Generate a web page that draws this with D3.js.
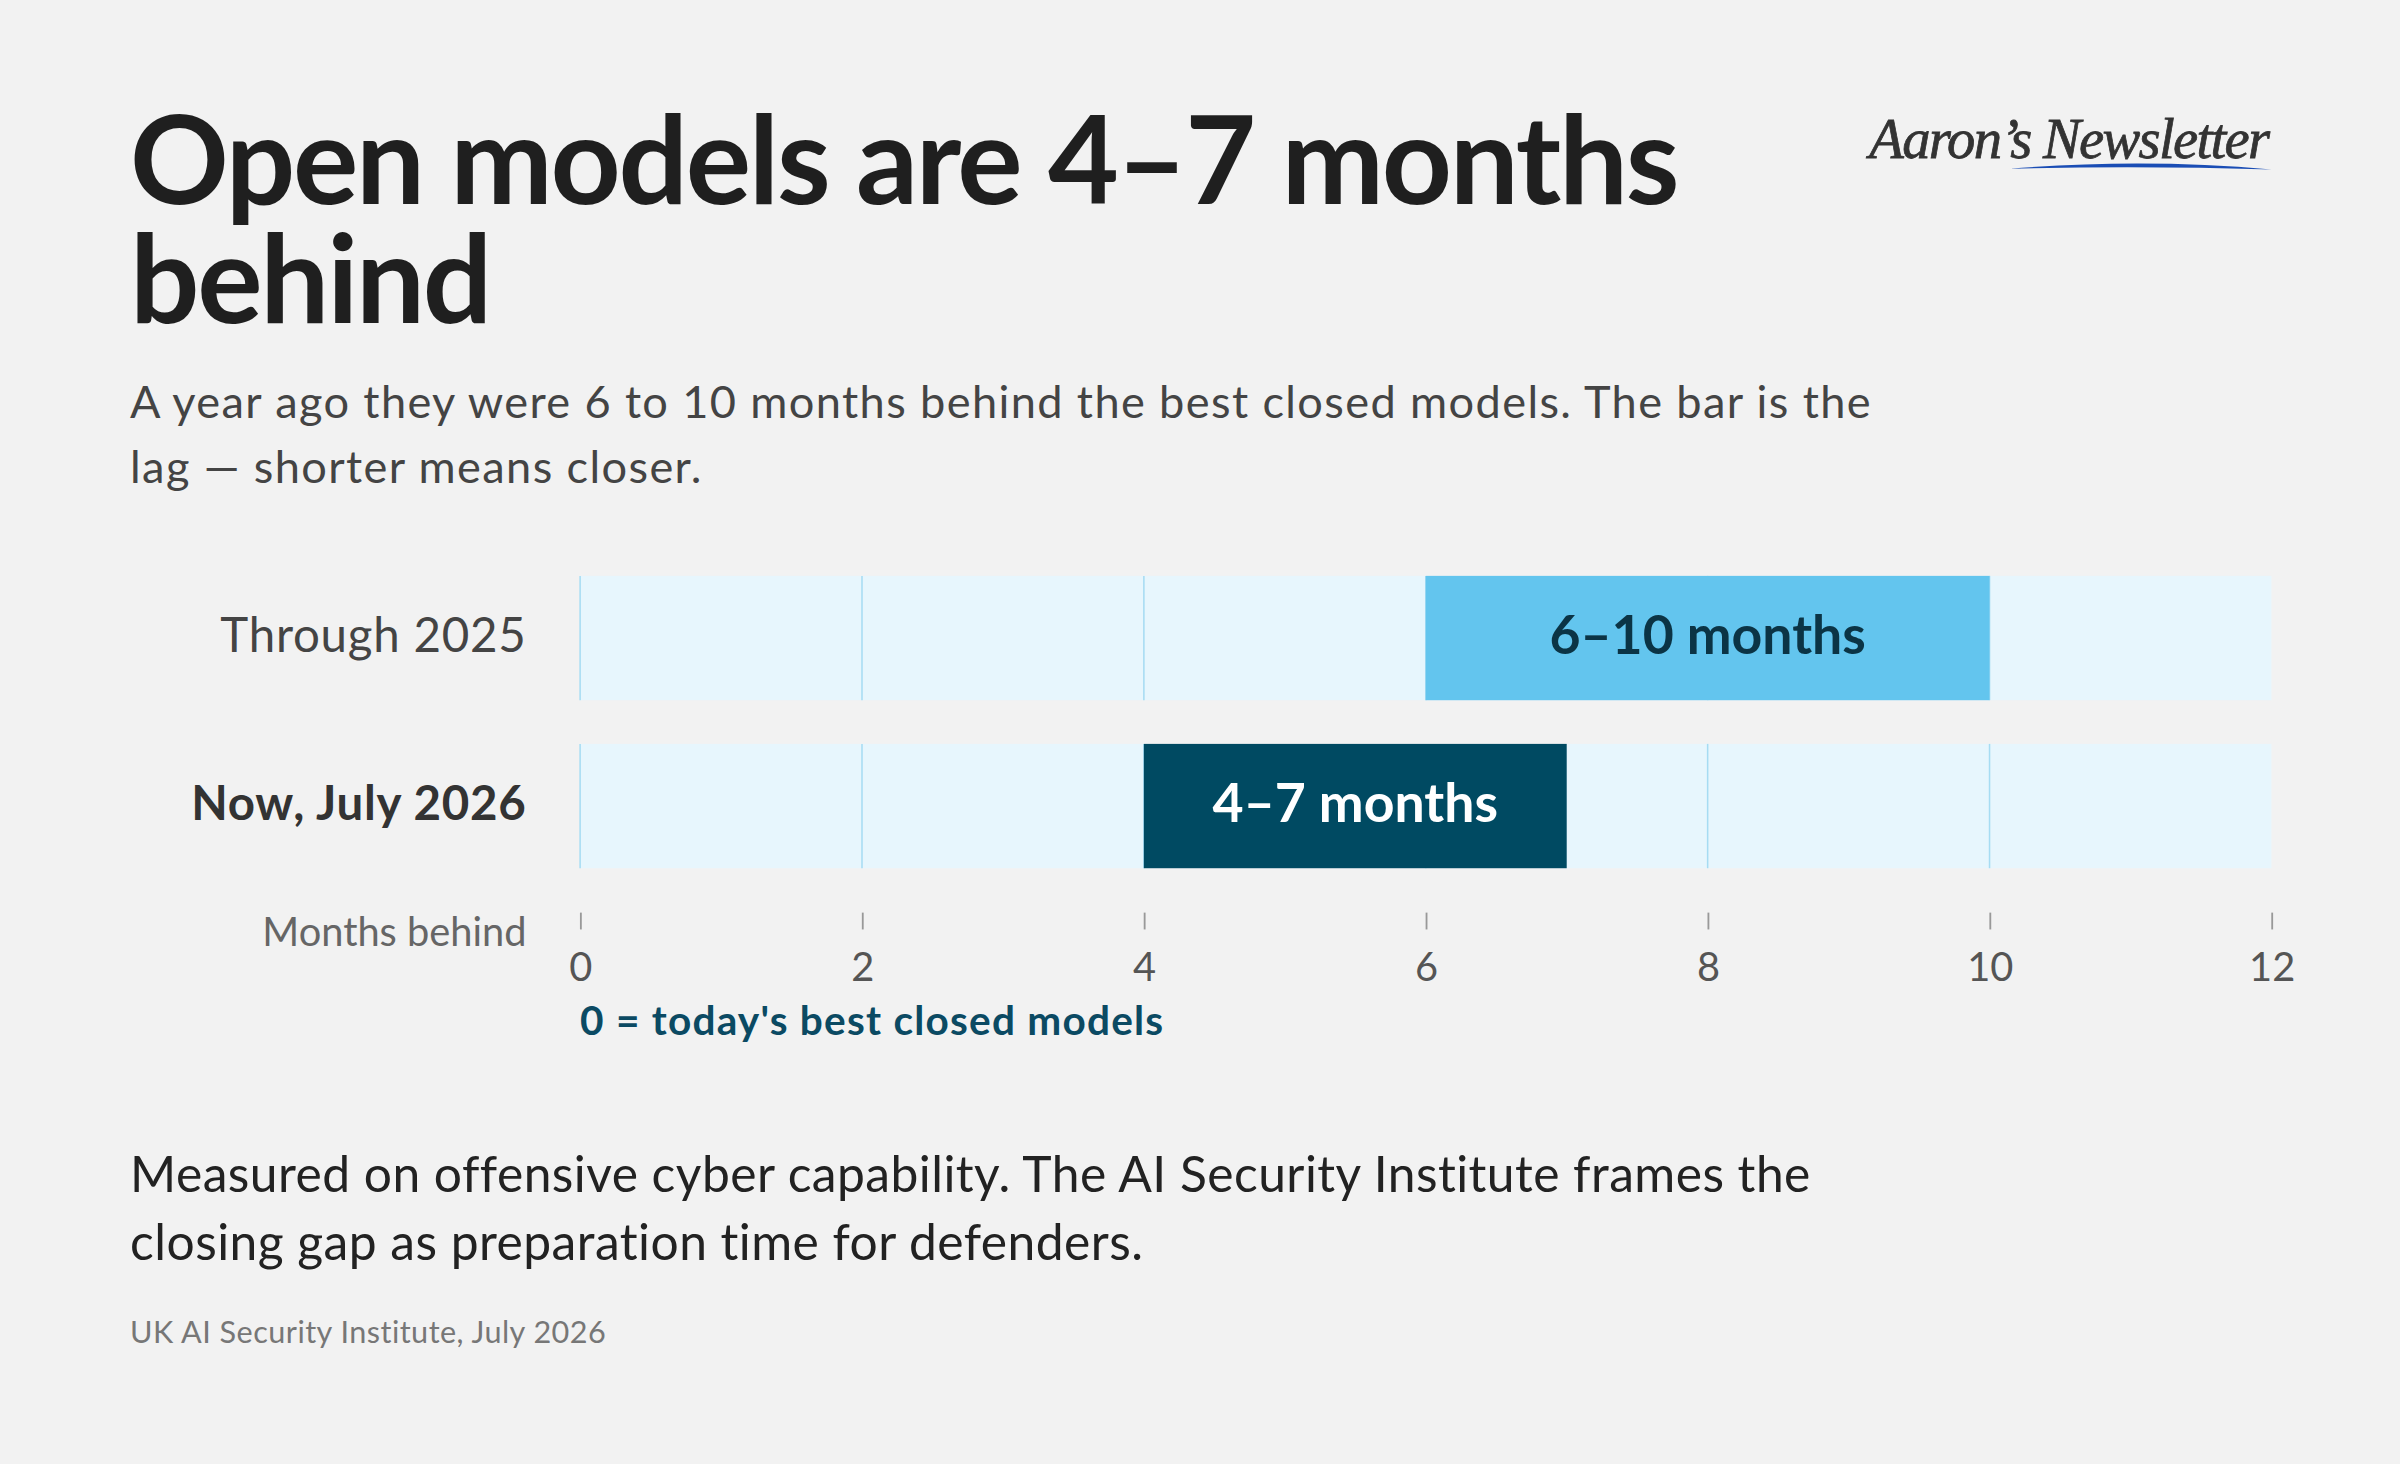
<!DOCTYPE html>
<html>
<head>
<meta charset="utf-8">
<script src="https://cdn.jsdelivr.net/npm/d3@7"></script>
<style>
  html, body { margin: 0; padding: 0; background: #f2f2f2; }
  svg { display: block; }
</style>
</head>
<body>
<svg id="chart"></svg>
<script>
// data
var rows = ["Through 2025", "Now, July 2026"]
var lagStart = [6, 4]
var lagEnd = [10, 7]
var barLabels = ["6–10 months", "4–7 months"]
var tickValues = [0, 2, 4, 6, 8, 10, 12]

var titleLines = ["Open models are 4–7 months", "behind"]
var subtitleLines = ["A year ago they were 6 to 10 months behind the best closed models. The bar is the",
                     "lag — shorter means closer."]
var noteLines = ["Measured on offensive cyber capability. The AI Security Institute frames the",
                 "closing gap as preparation time for defenders."]
var source = "UK AI Security Institute, July 2026"

// drawn in a 1568 x 956 frame, scaled up to the window
var W = 1568, H = 956
var sans = "Lato, 'Open Sans', sans-serif"
var svg = d3.select("#chart")
    .attr("width", 2400)
    .attr("height", 1464)
    .attr("viewBox", "0 0 " + W + " " + H)
    .style("font-family", sans)

svg.append("rect").attr("width", W).attr("height", H).attr("fill", "#f2f2f2")

var margins = {left: 85, chartLeft: 379, chartRight: 1484, labelRight: 344}

// title, one text with a tspan per line
svg.append("text")
    .attr("font-size", 80)
    .attr("font-weight", 700)
    .attr("letter-spacing", -1.5)
    .attr("fill", "#1f1f1f")
    .selectAll("tspan")
    .data(titleLines)
    .enter()
    .append("tspan")
    .attr("x", margins.left)
    .attr("y", function(d, i) { return 133 + i * 78 })
    .text(function(d) { return d })

svg.append("g").selectAll("text")
    .data(subtitleLines)
    .enter()
    .append("text")
    .attr("x", margins.left)
    .attr("y", function(d, i) { return 273 + i * 42.5 })
    .attr("font-size", 29.5)
    .attr("letter-spacing", 0.9)
    .attr("fill", "#444")
    .text(function(d) { return d })

// logo
var logo = svg.append("g")
logo.append("text")
    .attr("x", 1482)
    .attr("y", 103)
    .attr("text-anchor", "end")
    .style("font-family", "'Liberation Serif', 'DejaVu Serif', serif")
    .attr("font-style", "italic")
    .attr("font-size", 37)
    .attr("letter-spacing", -1.1)
    .attr("fill", "#333")
    .attr("stroke", "#333")
    .attr("stroke-width", 0.5)
    .text("Aaron’s Newsletter")
logo.append("path")
    .attr("d", "M1313,110 Q1400,103 1484,110.5 Q1400,108 1313,110 Z")
    .attr("fill", "#1a4db5")

// chart
var x = d3.scaleLinear().domain([0, 12]).range([margins.chartLeft, margins.chartRight])
var y = d3.scaleBand().domain(rows).range([376, 567]).paddingInner(0.26)

var rowG = svg.append("g").selectAll("g")
    .data(rows)
    .enter()
    .append("g")

rowG.append("rect")
    .attr("x", x(0))
    .attr("y", function(d) { return y(d) })
    .attr("width", x(12) - x(0))
    .attr("height", y.bandwidth())
    .attr("fill", "#e7f6fd")

rowG.each(function(d) {
    d3.select(this).selectAll("line")
        .data(tickValues.slice(0, -1))
        .enter()
        .append("line")
        .attr("x1", function(t) { return x(t) })
        .attr("x2", function(t) { return x(t) })
        .attr("y1", y(d))
        .attr("y2", y(d) + y.bandwidth())
        .attr("stroke", "#a6dcf3")
        .attr("stroke-width", 1)
})

rowG.append("rect")
    .attr("x", function(d, i) { return x(lagStart[i]) })
    .attr("y", function(d) { return y(d) })
    .attr("width", function(d, i) { return x(lagEnd[i]) - x(lagStart[i]) })
    .attr("height", y.bandwidth())
    .attr("fill", function(d, i) { return i == 0 ? "#63c5ee" : "#004a62" })

rowG.append("text")
    .attr("x", function(d, i) { return x((lagStart[i] + lagEnd[i]) / 2) })
    .attr("y", function(d) { return y(d) + y.bandwidth() / 2 + 10.5 })
    .attr("text-anchor", "middle")
    .attr("font-size", 35)
    .attr("font-weight", 700)
    .attr("fill", function(d, i) { return i == 0 ? "#0b3445" : "#ffffff" })
    .text(function(d, i) { return barLabels[i] })

rowG.append("text")
    .attr("x", margins.labelRight)
    .attr("y", function(d) { return y(d) + y.bandwidth() / 2 + 9 })
    .attr("text-anchor", "end")
    .attr("font-size", 31)
    .attr("letter-spacing", 0.5)
    .attr("font-weight", function(d, i) { return i == 1 ? 700 : 400 })
    .attr("fill", function(d, i) { return i == 1 ? "#333" : "#444" })
    .text(function(d) { return d })

// axis
var xAxis = d3.axisBottom(x).tickValues(tickValues).tickSize(11).tickPadding(15)
var axisG = svg.append("g")
    .attr("transform", "translate(0,596)")
    .call(xAxis)
axisG.select(".domain").remove()
axisG.selectAll(".tick line").attr("stroke", "#999").attr("stroke-width", 1.2)
axisG.selectAll(".tick text")
    .style("font-family", sans)
    .attr("font-size", 26)
    .attr("fill", "#555")

svg.append("text")
    .attr("x", margins.labelRight)
    .attr("y", 618)
    .attr("text-anchor", "end")
    .attr("font-size", 26)
    .attr("fill", "#666")
    .text("Months behind")

svg.append("text")
    .attr("x", x(0))
    .attr("y", 676)
    .attr("font-size", 26.5)
    .attr("font-weight", 700)
    .attr("letter-spacing", 0.8)
    .attr("fill", "#0b4a63")
    .text("0 = today's best closed models")

// notes
svg.append("g").selectAll("text")
    .data(noteLines)
    .enter()
    .append("text")
    .attr("x", margins.left)
    .attr("y", function(d, i) { return 778.5 + i * 44.7 })
    .attr("font-size", 32.5)
    .attr("letter-spacing", 0.3)
    .attr("fill", "#222")
    .text(function(d) { return d })

svg.append("text")
    .attr("x", margins.left)
    .attr("y", 877.5)
    .attr("font-size", 20)
    .attr("letter-spacing", 0.3)
    .attr("fill", "#777")
    .text(source)
</script>
</body>
</html>
